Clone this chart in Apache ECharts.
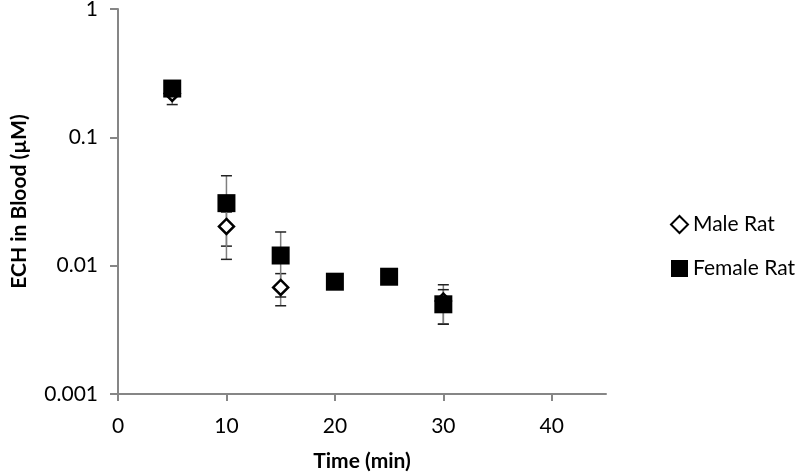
<!DOCTYPE html>
<html>
<head>
<meta charset="utf-8">
<script src="https://cdn.jsdelivr.net/npm/echarts@6/dist/echarts.min.js"></script>
<style>
  html, body { margin: 0; padding: 0; background: #fff; }
  #main { width: 800px; height: 472px; }
</style>
</head>
<body>
<div id="main"></div>
<script>
// data
var times = [5, 10, 15, 20, 25, 30]
var maleMean = [0.22, 0.0202, 0.00677, null, null, 0.0053]
var maleErr = [0.04, 0.006, 0.0019, null, null, 0.0018]
var femaleMean = [0.24, 0.0307, 0.012, 0.0075, 0.0082, 0.0050]
var femaleErr = [0.01, 0.0195, 0.0063, 0, 0, 0.0015]
var xTicks = [0, 10, 20, 30, 40]
var yTickLabels = ['0.001', '0.01', '0.1', '1']

var font = 'Lato, "Open Sans", sans-serif'

function points(mean) {
  var out = []
  times.forEach(function (t, i) {
    if (mean[i] != null) out.push([t, mean[i]])
  })
  return out
}

function bars(mean, err) {
  var out = []
  times.forEach(function (t, i) {
    if (mean[i] != null && err[i]) out.push([t, mean[i] - err[i], mean[i] + err[i]])
  })
  return out
}

function errorBar(params, api) {
  var lo = api.coord([api.value(0), api.value(1)])
  var hi = api.coord([api.value(0), api.value(2)])
  var w = 5.5
  return {
    type: 'group',
    children: [
      { type: 'line', shape: { x1: lo[0], y1: lo[1], x2: hi[0], y2: hi[1] }, style: { stroke: '#7f7f7f', lineWidth: 1.5 } },
      { type: 'line', shape: { x1: lo[0] - w, y1: lo[1], x2: lo[0] + w, y2: lo[1] }, style: { stroke: '#222', lineWidth: 1.5 } },
      { type: 'line', shape: { x1: hi[0] - w, y1: hi[1], x2: hi[0] + w, y2: hi[1] }, style: { stroke: '#222', lineWidth: 1.5 } }
    ]
  }
}

var chart = echarts.init(document.getElementById('main'))

var option = {
  animation: false,
  backgroundColor: '#fff',
  grid: { left: 118, right: 194, top: 9, bottom: 78, outerBoundsMode: 'none', containLabel: false },
  legend: {
    data: ['Male Rat', 'Female Rat'],
    orient: 'vertical',
    left: 665,
    top: 209,
    itemWidth: 17,
    itemHeight: 17,
    itemGap: 23,
    textStyle: { fontFamily: font, fontSize: 21, color: '#000' }
  },
  xAxis: {
    type: 'value',
    min: 0,
    max: 45,
    interval: 10,
    name: 'Time (min)',
    nameLocation: 'middle',
    nameGap: 57,
    nameTextStyle: { fontFamily: font, fontSize: 21, fontWeight: 'bold', color: '#000' },
    axisLine: { lineStyle: { color: '#868686', width: 2 } },
    axisTick: { show: true, length: 7, customValues: xTicks, lineStyle: { color: '#868686', width: 2 } },
    axisLabel: { customValues: xTicks, margin: 22, fontFamily: font, fontSize: 21, color: '#000' },
    splitLine: { show: false }
  },
  yAxis: {
    type: 'log',
    logBase: 10,
    min: 0.001,
    max: 1,
    name: 'ECH in Blood (µM)',
    nameLocation: 'middle',
    nameGap: 88,
    nameTextStyle: { fontFamily: font, fontSize: 21, fontWeight: 'bold', color: '#000' },
    axisLine: { show: true, lineStyle: { color: '#868686', width: 2 } },
    axisTick: { show: true, length: 8, lineStyle: { color: '#868686', width: 2 } },
    axisLabel: {
      margin: 20,
      fontFamily: font,
      fontSize: 21,
      color: '#000',
      formatter: function (v) {
        var i = Math.round(Math.log10(v)) + 3
        return yTickLabels[i] || ''
      }
    },
    minorTick: { show: false },
    splitLine: { show: false }
  },
  series: [
    {
      name: 'maleErr',
      type: 'custom',
      renderItem: errorBar,
      data: bars(maleMean, maleErr),
      z: 1,
      silent: true
    },
    {
      name: 'femaleErr',
      type: 'custom',
      renderItem: errorBar,
      data: bars(femaleMean, femaleErr),
      z: 1,
      silent: true
    },
    {
      name: 'Male Rat',
      type: 'scatter',
      symbol: 'diamond',
      symbolSize: 15,
      itemStyle: { color: '#fff', borderColor: '#000', borderWidth: 2.5, opacity: 1 },
      data: points(maleMean),
      z: 2
    },
    {
      name: 'Female Rat',
      type: 'scatter',
      symbol: 'rect',
      symbolSize: 18,
      itemStyle: { color: '#000', opacity: 1 },
      data: points(femaleMean),
      z: 3
    }
  ]
}

chart.setOption(option)
</script>
</body>
</html>
